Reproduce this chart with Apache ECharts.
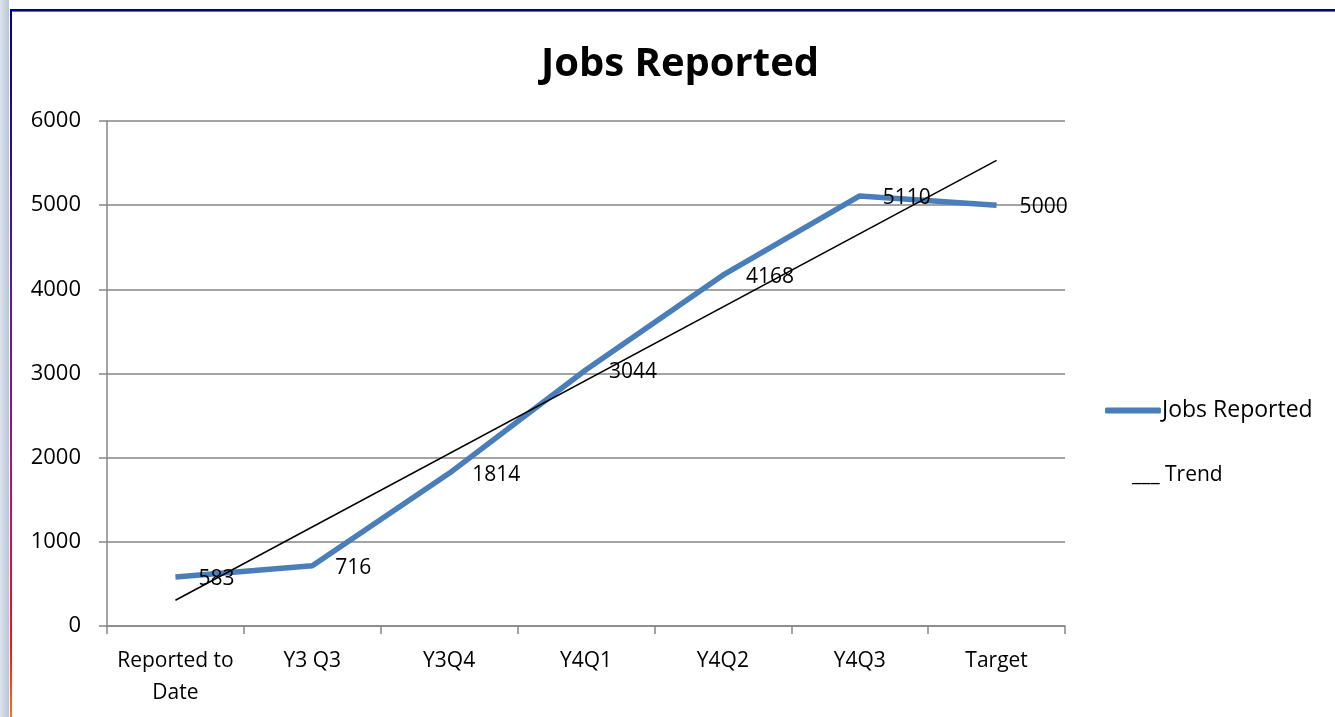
<!DOCTYPE html>
<html lang="en">
<head>
  <meta charset="UTF-8">
  <title>Jobs Reported</title>
  <style>
    html, body { margin: 0; padding: 0; background: #fff; }
    .shade {
      position: absolute; left: 0; top: 0; width: 9px; height: 717px;
      background: linear-gradient(to right, #dde4ee, #b9c6d8);
    }
    .topline {
      position: absolute; left: 10px; top: 9px; width: 1325px; height: 2px;
      background: #000080; border-bottom: 1px solid #6b6bd0;
    }
    .leftline {
      position: absolute; left: 10px; top: 9px; width: 2px; height: 708px;
      background: linear-gradient(to bottom, #000090 0%, #5a1aa0 40%, #c0106a 70%, #ff1010 90%, #ff7010 100%);
    }
    #chart { position: absolute; left: 0; top: 0; width: 1335px; height: 717px; }
  </style>
</head>
<body>
<div id="chart"></div>
<div class="shade"></div>
<div class="topline"></div>
<div class="leftline"></div>

<script src="https://cdn.jsdelivr.net/npm/echarts@6/dist/echarts.min.js"></script>
<script>
  const categories = ['Reported to\nDate', 'Y3 Q3', 'Y3Q4', 'Y4Q1', 'Y4Q2', 'Y4Q3', 'Target'];
  const jobsReported = [583, 716, 1814, 3044, 4168, 5110, 5000];
  // trend line end points
  const trendValues = [306, null, null, null, null, null, 5533];
  const yTicks = { min: 0, max: 6000, interval: 1000 };

  const font = 'Open Sans';
  const chart = echarts.init(document.getElementById('chart'));

  chart.setOption({
    animation: false,
    title: {
      text: 'Jobs Reported',
      left: 675, top: 40, textAlign: 'center',
      textStyle: { fontFamily: font, fontWeight: 'bold', fontSize: 40, color: '#000' }
    },
    grid: { left: 107, right: 270, top: 121, bottom: 91 },
    legend: [{
      data: [{ name: 'Jobs Reported', icon: 'roundRect' }],
      left: 1100, top: 394,
      itemWidth: 56, itemHeight: 6,
      itemGap: 0,
      textStyle: { fontFamily: font, fontSize: 23, color: '#000', padding: [0, 0, 0, -4] }
    }, {
      data: [{ name: 'Trend', icon: 'none' }],
      left: 1122, top: 460,
      itemWidth: 0,
      formatter: () => '___ Trend',
      textStyle: { fontFamily: font, fontSize: 21, color: '#000' }
    }],
    xAxis: {
      type: 'category',
      data: categories,
      boundaryGap: true,
      axisLine: { lineStyle: { color: '#868686', width: 1.5 } },
      axisTick: { show: true, interval: 0, length: 8, lineStyle: { color: '#868686', width: 1.5 } },
      axisLabel: { interval: 0, fontFamily: font, fontSize: 21, color: '#000', margin: 19, lineHeight: 32 }
    },
    yAxis: {
      type: 'value',
      min: yTicks.min, max: yTicks.max, interval: yTicks.interval,
      axisLine: { show: true, lineStyle: { color: '#868686', width: 1.5 } },
      axisTick: { show: true, length: 8, lineStyle: { color: '#868686', width: 1.5 } },
      splitLine: { lineStyle: { color: '#868686', width: 1.5 } },
      axisLabel: { fontFamily: font, fontSize: 22, color: '#000', margin: 26, formatter: v => String(v) }
    },
    series: [{
      name: 'Jobs Reported',
      type: 'line',
      data: jobsReported,
      symbol: 'circle',
      symbolSize: 0.1,
      showSymbol: true,
      lineStyle: { color: '#4a7ebb', width: 5.5 },
      itemStyle: { color: '#4a7ebb' },
      label: {
        show: true, position: 'right', distance: 23,
        fontFamily: font, fontSize: 21, color: '#000', offset: [0, 2]
      },
      z: 3
    }, {
      name: 'Trend',
      type: 'line',
      data: trendValues,
      connectNulls: true,
      symbol: 'none',
      lineStyle: { color: '#000', width: 1.5 },
      itemStyle: { color: '#000' },
      z: 4
    }]
  });
</script>
</body>
</html>
